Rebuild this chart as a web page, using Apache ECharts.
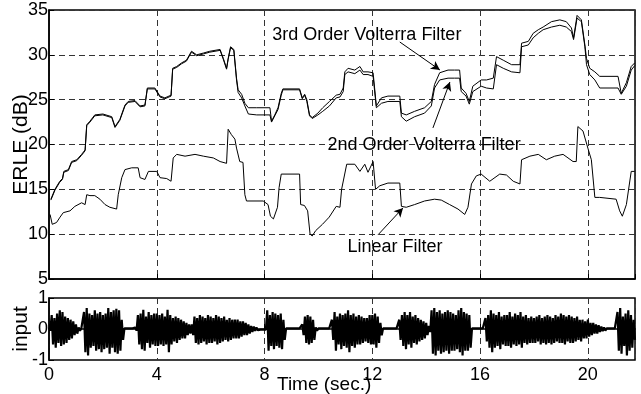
<!DOCTYPE html>
<html>
<head>
<meta charset="utf-8">
<script src="https://cdn.jsdelivr.net/npm/echarts@6/dist/echarts.min.js"></script>
<style>
  html, body { margin: 0; background: #fff; }
  #chart { width: 641px; height: 394px; }
</style>
</head>
<body>
<div id="chart"></div>
<script>
// ERLE curves (time in s, ERLE in dB)
const volT = [0.07, 0.22, 0.4, 0.5, 0.55, 0.72, 0.84, 1.03, 1.21, 1.34, 1.4, 1.52, 1.7, 2.0, 2.33, 2.45, 2.5, 2.63, 2.82, 2.94,
  3.19, 3.38, 3.56, 3.65, 3.93, 4.12, 4.3, 4.53, 4.59, 4.74, 4.92, 5.1, 5.29, 5.48, 5.73, 5.97, 6.35, 6.47, 6.59, 6.65,
  6.74, 6.86, 6.96, 7.02, 7.15, 7.27, 7.4, 7.71, 8.2, 8.26, 8.38, 8.5, 8.62, 8.68, 9.3, 9.4, 9.49, 9.57, 9.67, 9.77,
  9.98, 10.16, 10.41, 10.66, 10.8, 10.92, 10.98, 11.1, 11.35, 11.54, 11.66, 11.84, 12.03, 12.15, 12.34, 12.58, 13.02, 13.08, 13.26, 13.57,
  13.94, 14.19, 14.31, 14.5, 14.81, 15.05, 15.24, 15.3, 15.48, 15.6, 15.73, 16.04, 16.24, 16.49, 16.61, 16.86, 17.17, 17.48, 17.54, 17.79,
  17.97, 18.16, 18.34, 18.65, 18.96, 19.2, 19.39, 19.47, 19.6, 19.76, 19.89, 19.95, 20.07, 20.26, 20.44, 21.12, 21.24, 21.43, 21.61, 21.74]
const volterra3 = [13.9, 15.0, 15.9, 16.2, 17.0, 17.2, 18.1, 18.3, 18.9, 19.4, 22.2, 22.6, 23.3, 23.4, 23.1, 22.0, 21.8, 22.8, 24.4, 24.8,
  24.9, 24.3, 24.4, 26.3, 26.3, 25.4, 25.2, 25.5, 28.5, 28.7, 29.1, 29.4, 30.4, 30.0, 30.2, 30.4, 30.6, 29.6, 28.5, 29.6,
  30.9, 30.6, 27.4, 26.1, 25.6, 24.6, 24.1, 24.1, 24.1, 22.6, 23.3, 24.1, 25.7, 26.2, 26.2, 25.2, 25.6, 25.0, 23.3, 23.0,
  23.5, 24.1, 24.8, 25.5, 25.6, 26.3, 28.1, 28.5, 28.3, 28.7, 28.1, 28.1, 28.0, 24.3, 25.2, 25.4, 25.4, 23.5, 23.3, 23.7,
  24.1, 24.8, 26.7, 28.0, 28.3, 28.3, 28.3, 26.3, 25.7, 24.8, 26.5, 27.2, 27.2, 27.4, 29.8, 29.4, 28.9, 28.9, 31.3, 31.5,
  32.4, 32.8, 33.1, 33.7, 33.9, 33.7, 33.0, 31.9, 34.4, 33.9, 31.1, 29.6, 28.5, 28.1, 27.6, 27.6, 25.7, 26.9, 28.7, 29.1]
const volterra2 = [13.8, 14.9, 15.8, 16.1, 16.9, 17.1, 18.0, 18.2, 18.8, 19.3, 22.1, 22.5, 23.2, 23.3, 23.0, 21.9, 21.7, 22.7, 24.3, 24.7,
  24.8, 24.2, 24.3, 26.2, 26.2, 25.3, 25.1, 25.4, 28.4, 28.6, 29.0, 29.3, 30.3, 29.9, 30.1, 30.3, 30.5, 29.5, 28.4, 29.5,
  30.8, 30.5, 27.2, 25.8, 25.2, 24.3, 23.4, 23.3, 23.3, 22.5, 23.2, 23.9, 25.5, 26.1, 26.1, 25.1, 25.5, 24.8, 23.2, 22.9,
  23.3, 23.7, 24.3, 25.2, 25.3, 25.9, 27.8, 28.1, 27.9, 28.3, 27.8, 27.8, 27.6, 24.1, 24.6, 24.8, 24.8, 23.1, 22.6, 23.1,
  23.5, 24.3, 26.3, 27.2, 27.4, 27.4, 27.4, 25.9, 25.4, 24.5, 25.9, 26.5, 26.3, 26.2, 28.9, 28.5, 28.1, 28.0, 30.9, 31.1,
  31.9, 32.4, 32.8, 33.1, 33.3, 33.1, 32.6, 31.7, 34.1, 33.7, 30.9, 28.9, 27.8, 27.2, 26.3, 26.3, 25.6, 26.5, 28.3, 28.8]

const linT = [0.04, 0.12, 0.28, 0.41, 0.53, 0.78, 0.96, 1.21, 1.34, 1.4, 1.52, 1.7, 1.89, 2.08, 2.26, 2.51, 2.57, 2.7, 2.82, 3.07,
  3.31, 3.38, 3.56, 3.69, 4.0, 4.12, 4.37, 4.53, 4.61, 4.74, 5.05, 5.42, 5.73, 6.1, 6.35, 6.59, 6.65, 6.77, 6.9, 6.96,
  7.08, 7.2, 7.27, 7.33, 7.95, 8.13, 8.22, 8.33, 8.48, 8.54, 8.62, 9.3, 9.34, 9.48, 9.6, 9.69, 9.77, 9.9, 10.15, 10.4,
  10.66, 10.8, 10.86, 11.05, 11.35, 11.54, 11.72, 11.84, 12.03, 12.12, 12.28, 12.58, 13.02, 13.08, 13.26, 13.57, 13.94, 14.31, 14.56, 14.87,
  15.18, 15.43, 15.55, 15.68, 15.86, 16.04, 16.36, 16.73, 16.98, 17.23, 17.48, 17.54, 17.85, 18.16, 18.46, 18.77, 19.08, 19.45, 19.57, 19.63,
  19.82, 20.0, 20.13, 20.26, 20.44, 21.05, 21.18, 21.28, 21.43, 21.61, 21.74]
const linear = [12.2, 11.1, 11.3, 11.9, 12.4, 12.6, 13.1, 13.5, 13.3, 14.4, 14.3, 14.3, 13.9, 13.3, 13.0, 12.8, 14.4, 16.3, 17.2, 17.4,
  17.4, 16.3, 16.1, 17.0, 17.0, 16.3, 16.2, 15.9, 18.5, 18.9, 18.7, 18.9, 18.7, 18.5, 18.1, 17.9, 21.7, 21.1, 20.6, 19.6,
  18.1, 18.0, 14.4, 13.7, 13.7, 13.3, 12.0, 11.7, 13.0, 15.2, 16.7, 16.7, 13.3, 13.2, 12.6, 10.0, 9.8, 10.4, 11.1, 11.9,
  13.1, 13.0, 15.0, 17.8, 17.8, 17.0, 17.8, 16.9, 18.1, 15.0, 15.4, 15.7, 15.7, 13.1, 13.0, 13.3, 13.7, 13.9, 13.8, 13.3,
  12.8, 12.2, 13.0, 15.6, 16.5, 16.7, 15.9, 16.7, 16.6, 15.9, 15.6, 18.3, 18.7, 18.9, 18.3, 18.7, 18.9, 18.1, 18.1, 22.0,
  21.5, 19.6, 18.3, 14.1, 14.1, 13.9, 12.6, 12.0, 13.3, 17.0, 17.0]

// input signal envelope, one value per 0.1 s (upper peak, lower peak)
const inStep = 0.1
const inHi = [
  0.05, 0.45, 0.35, 0.5, 0.6, 0.55, 0.4, 0.35, 0.3, 0.25,
  0.15, 0.05, 0.02, 0.55, 0.68, 0.5, 0.45, 0.6, 0.5, 0.55,
  0.45, 0.5, 0.68, 0.55, 0.6, 0.65, 0.6, 0.3, 0.02, 0.02,
  0.02, 0.02, 0.05, 0.45, 0.5, 0.62, 0.4, 0.55, 0.45, 0.5,
  0.5, 0.45, 0.5, 0.4, 0.62, 0.45, 0.35, 0.4, 0.35, 0.3,
  0.25, 0.2, 0.15, 0.15, 0.4, 0.35, 0.45, 0.4, 0.35, 0.45,
  0.4, 0.35, 0.45, 0.4, 0.35, 0.4, 0.3, 0.35, 0.3, 0.3,
  0.3, 0.25, 0.25, 0.2, 0.15, 0.1, 0.08, 0.05, 0.02, 0.02,
  0.02, 0.6, 0.45, 0.55, 0.5, 0.45, 0.5, 0.3, 0.02, 0.02,
  0.02, 0.02, 0.02, 0.02, 0.15, 0.4, 0.45, 0.4, 0.3, 0.05,
  0.02, 0.02, 0.02, 0.02, 0.02, 0.3, 0.55, 0.4, 0.5, 0.45,
  0.5, 0.6, 0.45, 0.5, 0.4, 0.45, 0.4, 0.35, 0.35, 0.45,
  0.45, 0.5, 0.4, 0.2, 0.02, 0.02, 0.02, 0.02, 0.02, 0.02,
  0.3, 0.45, 0.55, 0.45, 0.55, 0.4, 0.45, 0.35, 0.3, 0.25,
  0.2, 0.1, 0.6, 0.68, 0.55, 0.6, 0.5, 0.55, 0.6, 0.55,
  0.5, 0.45, 0.6, 0.68, 0.55, 0.5, 0.45, 0.02, 0.02, 0.02,
  0.02, 0.02, 0.35, 0.45, 0.6, 0.5, 0.45, 0.55, 0.4, 0.45,
  0.45, 0.55, 0.4, 0.5, 0.45, 0.55, 0.4, 0.45, 0.35, 0.4,
  0.35, 0.4, 0.45, 0.35, 0.4, 0.45, 0.4, 0.35, 0.45, 0.4,
  0.5, 0.45, 0.4, 0.45, 0.4, 0.35, 0.4, 0.3, 0.3, 0.25,
  0.3, 0.2, 0.2, 0.15, 0.12, 0.08, 0.05, 0.02, 0.02, 0.02,
  0.02, 0.55, 0.68, 0.4, 0.5, 0.6, 0.45, 0.3]
const inLo = [
  0.05, 0.5, 0.6, 0.45, 0.55, 0.5, 0.45, 0.35, 0.3, 0.2,
  0.15, 0.05, 0.02, 0.75, 0.85, 0.6, 0.55, 0.7, 0.65, 0.75,
  0.65, 0.6, 0.8, 0.6, 0.75, 0.8, 0.7, 0.35, 0.02, 0.02,
  0.02, 0.02, 0.05, 0.5, 0.65, 0.7, 0.45, 0.6, 0.5, 0.55,
  0.55, 0.5, 0.55, 0.5, 0.75, 0.5, 0.4, 0.45, 0.35, 0.3,
  0.3, 0.2, 0.15, 0.2, 0.45, 0.5, 0.45, 0.4, 0.5, 0.45,
  0.45, 0.4, 0.5, 0.45, 0.4, 0.35, 0.4, 0.35, 0.3, 0.3,
  0.3, 0.25, 0.2, 0.2, 0.15, 0.1, 0.06, 0.04, 0.02, 0.02,
  0.02, 0.7, 0.55, 0.65, 0.55, 0.6, 0.65, 0.35, 0.02, 0.02,
  0.02, 0.02, 0.02, 0.02, 0.2, 0.45, 0.5, 0.45, 0.35, 0.05,
  0.02, 0.02, 0.02, 0.02, 0.02, 0.35, 0.7, 0.5, 0.65, 0.55,
  0.6, 0.75, 0.55, 0.6, 0.5, 0.5, 0.45, 0.4, 0.45, 0.5,
  0.5, 0.6, 0.45, 0.2, 0.02, 0.02, 0.02, 0.02, 0.02, 0.02,
  0.35, 0.55, 0.65, 0.5, 0.6, 0.45, 0.5, 0.4, 0.35, 0.3,
  0.2, 0.1, 0.8, 0.85, 0.7, 0.8, 0.75, 0.7, 0.8, 0.7,
  0.7, 0.65, 0.75, 0.85, 0.7, 0.7, 0.6, 0.02, 0.02, 0.02,
  0.02, 0.02, 0.4, 0.6, 0.75, 0.6, 0.55, 0.65, 0.5, 0.55,
  0.55, 0.6, 0.5, 0.55, 0.5, 0.6, 0.45, 0.5, 0.45, 0.45,
  0.45, 0.4, 0.5, 0.45, 0.5, 0.45, 0.5, 0.45, 0.4, 0.45,
  0.45, 0.5, 0.4, 0.45, 0.45, 0.4, 0.35, 0.4, 0.3, 0.3,
  0.25, 0.2, 0.15, 0.15, 0.1, 0.07, 0.05, 0.02, 0.02, 0.02,
  0.02, 0.7, 0.8, 0.55, 0.85, 0.7, 0.6, 0.35]

const font = "'Liberation Sans', Arial, Helvetica, sans-serif"
const dash = { color: '#333', width: 1, type: [6, 4] }

const pairs = (xs, ys) => xs.map((x, i) => [x, ys[i]])
// waveform: swing from the upper peak to the lower peak inside each step
const inWave = []
inHi.forEach((v, i) => {
  inWave.push([i * inStep, v])
  inWave.push([i * inStep + inStep / 2, -inLo[i]])
})

const chart = echarts.init(document.getElementById('chart'))

const xCommon = {
  type: 'value',
  min: 0,
  max: 21.75,
  interval: 4,
  axisLine: { lineStyle: { color: '#000', width: 1.5 } },
  axisTick: { inside: true, length: 5, lineStyle: { color: '#000' } },
  splitLine: { show: true, lineStyle: dash }
}

const yName = { color: '#000', fontSize: 21, fontFamily: font }
const lineStyle = { color: '#000', width: 1 }

chart.setOption({
  animation: false,
  textStyle: { fontFamily: font },
  grid: [
    { left: 49, top: 10, width: 586, height: 269, outerBoundsMode: 'none', show: true, borderColor: '#000', borderWidth: 1.5 },
    { left: 49, top: 298, width: 586, height: 62, outerBoundsMode: 'none', show: true, borderColor: '#000', borderWidth: 1.5 }
  ],
  xAxis: [
    Object.assign({}, xCommon, { gridIndex: 0, axisLabel: { show: false } }),
    Object.assign({}, xCommon, {
      gridIndex: 1,
      axisLabel: { color: '#000', fontSize: 18, margin: 6, showMaxLabel: false, fontFamily: font }
    })
  ],
  yAxis: [
    {
      type: 'value', gridIndex: 0, min: 5, max: 35, interval: 5,
      name: 'ERLE (dB)', nameLocation: 'middle', nameGap: 17, nameMoveOverlap: false,
      nameTextStyle: yName,
      axisLine: { show: true, lineStyle: { color: '#000', width: 1.5 } },
      axisTick: { show: true, inside: true, length: 5, lineStyle: { color: '#000' } },
      axisLabel: { color: '#000', fontSize: 18, margin: 1, fontFamily: font },
      splitLine: { show: true, lineStyle: dash }
    },
    {
      type: 'value', gridIndex: 1, min: -1, max: 1, interval: 1,
      name: 'input', nameLocation: 'middle', nameGap: 17, nameMoveOverlap: false,
      nameTextStyle: yName,
      axisLine: { show: true, lineStyle: { color: '#000', width: 1.5 } },
      axisTick: { show: true, inside: true, length: 5, lineStyle: { color: '#000' } },
      axisLabel: { color: '#000', fontSize: 18, margin: 1, fontFamily: font },
      splitLine: { show: false }
    }
  ],
  graphic: [
    { type: 'text', left: 277, top: 375, style: { text: 'Time (sec.)', fill: '#000', fontSize: 19, fontFamily: font } }
  ],
  series: [
    {
      name: '3rd Order Volterra Filter', type: 'line', xAxisIndex: 0, yAxisIndex: 0,
      data: pairs(volT, volterra3), symbol: 'none', lineStyle
    },
    {
      name: '2nd Order Volterra Filter', type: 'line', xAxisIndex: 0, yAxisIndex: 0,
      data: pairs(volT, volterra2), symbol: 'none', lineStyle
    },
    {
      name: 'Linear Filter', type: 'line', xAxisIndex: 0, yAxisIndex: 0,
      data: pairs(linT, linear), symbol: 'none', lineStyle,
      markLine: {
        silent: true,
        symbol: ['none', 'arrow'],
        symbolSize: [7, 9],
        lineStyle: { color: '#000', width: 1, type: 'solid' },
        label: { show: false },
        data: [
          [{ coord: [13.02, 31.43] }, { coord: [14.51, 28.31] }],
          [{ coord: [14.25, 21.85] }, { coord: [14.88, 26.97] }],
          [{ coord: [12.21, 9.92] }, { coord: [13.14, 12.93] }]
        ]
      },
      markPoint: {
        silent: true,
        symbol: 'circle',
        symbolSize: 1,
        itemStyle: { color: 'rgba(0,0,0,0)' },
        label: { show: true, position: 'right', distance: 0, color: '#000', fontSize: 18, fontFamily: font },
        data: [
          { coord: [8.27, 32.2], label: { formatter: '3rd Order Volterra Filter' } },
          { coord: [10.32, 19.95], label: { formatter: '2nd Order Volterra Filter' } },
          { coord: [11.06, 8.58], label: { formatter: 'Linear Filter' } }
        ]
      }
    },
    {
      name: 'input', type: 'line', xAxisIndex: 1, yAxisIndex: 1,
      data: inWave, symbol: 'none', lineStyle: { color: '#000', width: 2.2 }
    }
  ]
})
</script>
</body>
</html>
